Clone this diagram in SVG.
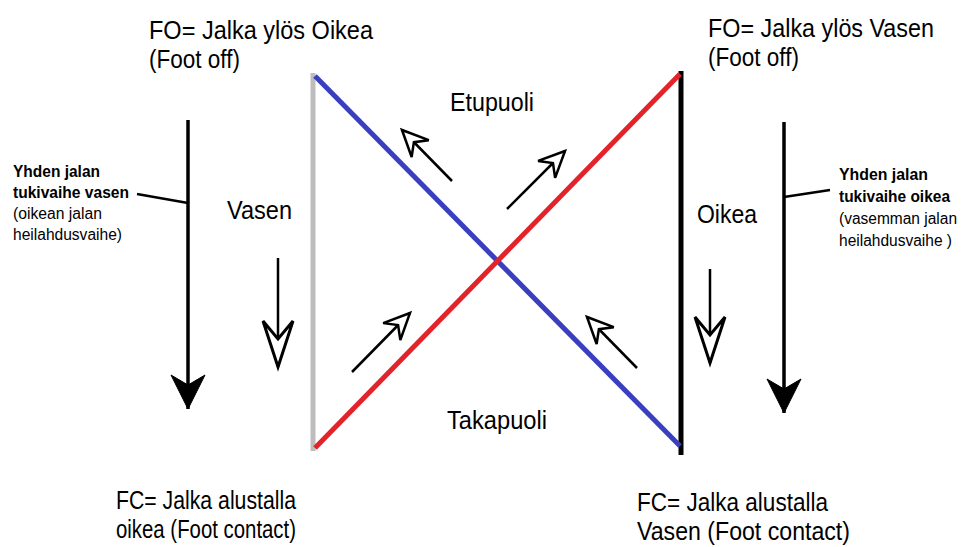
<svg xmlns="http://www.w3.org/2000/svg" width="962" height="547" viewBox="0 0 962 547">
<style>
.t{font-family:"Liberation Sans",Arial,sans-serif;font-size:26px;fill:#000}
.f{font-size:25px}
.s{font-family:"Liberation Sans",Arial,sans-serif;font-size:16px;fill:#000}
.b{font-weight:bold}
.ar{stroke:#000;stroke-width:2.5;fill:none}
.al{stroke:#000;stroke-width:3.5;fill:none}
</style>
<defs>
<marker id="oS" markerUnits="userSpaceOnUse" orient="auto" overflow="visible" markerWidth="10" markerHeight="10" refX="0" refY="0">
<path d="M0,0 L-26,-12 L-17,0 L-26,12 Z" fill="#fff" stroke="#000" stroke-width="2.5" stroke-linejoin="miter"/>
</marker>
<marker id="oL" markerUnits="userSpaceOnUse" orient="auto" overflow="visible" markerWidth="10" markerHeight="10" refX="0" refY="0">
<path d="M0,0 L-46,-15 L-28,0 L-46,15 Z" fill="#fff" stroke="#000" stroke-width="3" stroke-linejoin="miter"/>
</marker>
<marker id="fL" markerUnits="userSpaceOnUse" orient="auto" overflow="visible" markerWidth="10" markerHeight="10" refX="0" refY="0">
<path d="M0,0 L-34,-17 L-24,0 L-34,17 Z" fill="#000" stroke="#000" stroke-width="1"/>
</marker>
</defs>
<rect width="962" height="547" fill="#fff"/>
<g id="sides">
<line x1="313" y1="73" x2="313" y2="451" stroke="#bdbdbd" stroke-width="5"/>
<line x1="681" y1="71" x2="681" y2="455" stroke="#000" stroke-width="5"/>
</g>
<g id="diagonals">
<line x1="315" y1="76" x2="680" y2="446" stroke="#3a3fc0" stroke-width="5"/>
<line x1="315" y1="448" x2="680" y2="74" stroke="#e2232a" stroke-width="5"/>
</g>
<g id="connectors">
<line class="al" x1="188" y1="120" x2="188" y2="409" marker-end="url(#fL)"/>
<line class="al" x1="784" y1="122" x2="784" y2="413" marker-end="url(#fL)"/>
<line class="ar" x1="278" y1="258" x2="278" y2="367" marker-end="url(#oL)"/>
<line class="ar" x1="710" y1="269" x2="710" y2="363" marker-end="url(#oL)"/>
<line class="ar" x1="452" y1="181" x2="402" y2="130" marker-end="url(#oS)"/>
<line class="ar" x1="507" y1="209" x2="565" y2="151" marker-end="url(#oS)"/>
<line class="ar" x1="352" y1="372" x2="410" y2="313" marker-end="url(#oS)"/>
<line class="ar" x1="637" y1="368" x2="587" y2="317" marker-end="url(#oS)"/>
<line class="ar" x1="137" y1="194" x2="188" y2="203"/>
<line class="ar" x1="784" y1="197" x2="830" y2="190"/>
</g>
<g id="fo-left"><text class="t" x="149" y="39" textLength="224" lengthAdjust="spacingAndGlyphs">FO= Jalka ylös Oikea</text><text class="t" x="149" y="68" textLength="91" lengthAdjust="spacingAndGlyphs">(Foot off)</text></g>
<g id="fo-right"><text class="t" x="708" y="37" textLength="226" lengthAdjust="spacingAndGlyphs">FO= Jalka ylös Vasen</text><text class="t" x="708" y="66" textLength="91" lengthAdjust="spacingAndGlyphs">(Foot off)</text></g>
<g id="etupuoli"><text class="t" x="450" y="111" textLength="84" lengthAdjust="spacingAndGlyphs">Etupuoli</text></g>
<g id="vasen"><text class="t" x="227" y="219" textLength="65" lengthAdjust="spacingAndGlyphs">Vasen</text></g>
<g id="oikea"><text class="t" x="697" y="223" textLength="60" lengthAdjust="spacingAndGlyphs">Oikea</text></g>
<g id="takapuoli"><text class="t" x="447" y="429" textLength="100" lengthAdjust="spacingAndGlyphs">Takapuoli</text></g>
<g id="fc-left"><text class="t f" x="116" y="509" textLength="180" lengthAdjust="spacingAndGlyphs">FC= Jalka alustalla</text><text class="t f" x="116" y="538" textLength="180" lengthAdjust="spacingAndGlyphs">oikea (Foot contact)</text></g>
<g id="fc-right"><text class="t f" x="637" y="511" textLength="191" lengthAdjust="spacingAndGlyphs">FC= Jalka alustalla</text><text class="t f" x="637" y="540" textLength="213" lengthAdjust="spacingAndGlyphs">Vasen (Foot contact)</text></g>
<g id="label-left">
<text class="s b" x="13" y="177" textLength="87" lengthAdjust="spacingAndGlyphs">Yhden jalan</text>
<text class="s b" x="13" y="198" textLength="116" lengthAdjust="spacingAndGlyphs">tukivaihe vasen</text>
<text class="s" x="13" y="219" textLength="89" lengthAdjust="spacingAndGlyphs">(oikean jalan</text>
<text class="s" x="13" y="240" textLength="109" lengthAdjust="spacingAndGlyphs">heilahdusvaihe)</text>
</g>
<g id="label-right">
<text class="s b" x="839" y="180" textLength="89" lengthAdjust="spacingAndGlyphs">Yhden jalan</text>
<text class="s b" x="839" y="202" textLength="111" lengthAdjust="spacingAndGlyphs">tukivaihe oikea</text>
<text class="s" x="839" y="224" textLength="118" lengthAdjust="spacingAndGlyphs">(vasemman jalan</text>
<text class="s" x="839" y="246" textLength="113" lengthAdjust="spacingAndGlyphs">heilahdusvaihe )</text>
</g>
</svg>
